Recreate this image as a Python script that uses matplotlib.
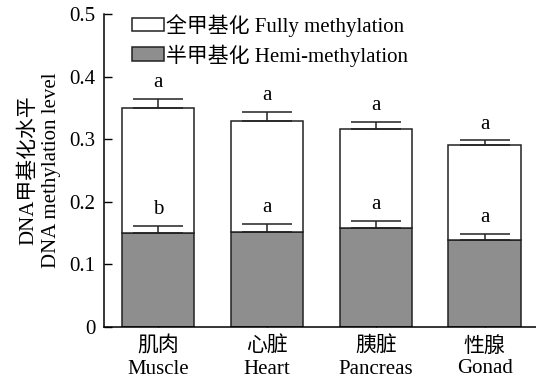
import matplotlib
matplotlib.use("Agg")
import matplotlib.pyplot as plt
import numpy as np

plt.rcParams['font.family'] = ['Liberation Serif', 'Noto Sans CJK SC']
plt.rcParams['font.size'] = 15

tissues_cn = ["肌肉", "心脏", "胰脏", "性腺"]
tissues_en = ["Muscle", "Heart", "Pancreas", "Gonad"]
hemi = [0.150, 0.152, 0.158, 0.139]
hemi_err = [0.012, 0.012, 0.012, 0.009]
full = [0.200, 0.177, 0.159, 0.151]
full_err = [0.014, 0.015, 0.010, 0.008]
hemi_letters = ["b", "a", "a", "a"]
full_letters = ["a", "a", "a", "a"]
yticks = [0, 0.1, 0.2, 0.3, 0.4, 0.5]

fig = plt.figure(figsize=(5.36, 3.81), dpi=100)
ax = fig.add_axes([104/536, 54/381, 432/536, 313/381])

x = np.arange(len(tissues_en))
w = 0.667
gray = "#8e8e8e"
edge = "#222222"

b_hemi = ax.bar(x, hemi, w, color=gray, edgecolor=edge, linewidth=1.1, zorder=2,
                label="半甲基化 Hemi-methylation")
b_full = ax.bar(x, full, w, bottom=hemi, color="white", edgecolor=edge, linewidth=1.1,
                zorder=2, label="全甲基化 Fully methylation")

total = np.array(hemi) + np.array(full)
for xs, top, err in [(x, np.array(hemi), hemi_err), (x, total, full_err)]:
    ax.errorbar(xs, top, yerr=[np.zeros(len(err)), err], fmt="none", ecolor=edge,
                elinewidth=1.1, capsize=18, capthick=1.1, zorder=3)

for i in range(len(x)):
    ax.annotate(hemi_letters[i], (x[i], hemi[i] + hemi_err[i]), xytext=(0, 5),
                textcoords="offset points", ha="center", va="bottom", fontsize=15)
    ax.annotate(full_letters[i], (x[i], total[i] + full_err[i]), xytext=(0, 5),
                textcoords="offset points", ha="center", va="bottom", fontsize=15)

ax.set_xlim(-0.495, 3.47)
ax.set_ylim(0, 0.5)
ax.set_yticks(yticks)
ax.set_yticklabels(["0" if v == 0 else f"{v:.1f}" for v in yticks])
ax.set_xticks(x)
ax.set_xticklabels([f"{c}\n{e}" for c, e in zip(tissues_cn, tissues_en)], linespacing=1.2)
ax.tick_params(axis="y", direction="in", length=6, width=1, pad=6)
ax.tick_params(axis="x", direction="in", length=5, width=1, pad=7)
for s in ["top", "right"]:
    ax.spines[s].set_visible(False)
for s in ["left", "bottom"]:
    ax.spines[s].set_linewidth(1.1)

ax.set_ylabel("DNA甲基化水平\nDNA methylation level", linespacing=1.3, labelpad=6)

ax.legend(handles=[b_full, b_hemi], loc="upper left", bbox_to_anchor=(0.065, 1.0),
          frameon=False, handlelength=1.55, handleheight=0.62, handletextpad=0.1,
          labelspacing=0.35, borderpad=0, borderaxespad=0, fontsize=15)

fig.savefig("out.png", dpi=100)
